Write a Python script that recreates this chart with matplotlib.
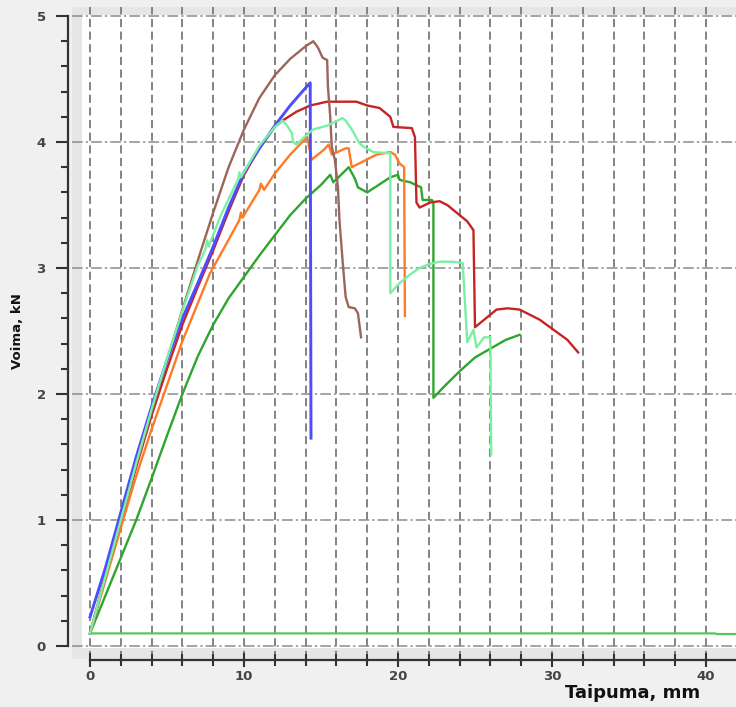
import matplotlib
matplotlib.use("Agg")
import matplotlib.pyplot as plt
from matplotlib.ticker import MultipleLocator

plt.rcParams['font.family'] = ['DejaVu Sans']

# Force–deflection curves (deflection in mm, force in kN)
brown_x = [0, 1, 2, 3, 4, 5, 6, 7, 8, 9, 10, 11, 12, 13, 14, 14.5,
           14.8, 15.1, 15.4, 15.45, 15.6, 15.7, 15.9, 16.1, 16.2, 16.4, 16.6, 16.8, 17.2, 17.4, 17.6]
brown_y = [0.1, 0.56, 1.0, 1.44, 1.86, 2.27, 2.67, 3.06, 3.44, 3.8, 4.1, 4.35, 4.53, 4.66, 4.76, 4.8,
           4.75, 4.67, 4.65, 4.44, 4.2, 3.96, 3.86, 3.64, 3.38, 3.06, 2.77, 2.69, 2.68, 2.64, 2.45]

blue_x = [0, 1, 2, 3, 4, 5, 6, 7, 8, 9, 10, 11, 12, 13, 14, 14.3, 14.35]
blue_y = [0.23, 0.62, 1.06, 1.5, 1.9, 2.27, 2.6, 2.88, 3.17, 3.48, 3.76, 3.95, 4.13, 4.29, 4.43, 4.47, 1.65]

red_x = [0, 1, 2, 3, 4, 5, 6, 7, 8, 9, 10, 11, 12, 12.5, 13.4, 14.3, 15.4, 17.3, 18.0, 18.8, 19.5,
         19.7, 20.9, 21.1, 21.2, 21.4, 22.1, 22.7, 23.2, 23.8, 24.5, 24.9, 25.0, 25.4, 26.4,
         27.1, 27.9, 29.2, 30.1, 31.0, 31.7]
red_y = [0.1, 0.55, 1.0, 1.42, 1.83, 2.2, 2.55, 2.85, 3.14, 3.45, 3.74, 3.95, 4.12, 4.17, 4.24, 4.29,
         4.32, 4.32, 4.29, 4.27, 4.2, 4.12, 4.11, 4.04, 3.52, 3.48, 3.52, 3.53, 3.5, 3.44, 3.37, 3.3,
         2.53, 2.57, 2.67, 2.68, 2.67, 2.59, 2.51, 2.43, 2.33]

aqua_x = [0, 1, 2, 3, 4, 5, 6, 7, 7.5, 7.6, 7.7, 8.5, 9.6, 9.7, 9.8, 11.0, 12.0, 12.5, 12.8, 13.1,
          13.2, 13.4, 14.1, 14.5, 15.4, 16.4, 16.6, 17.0, 17.5, 17.8, 18.4, 19.5, 19.5, 20.1, 20.8,
          21.4, 22.0, 22.7, 23.5, 24.2, 24.5, 24.9, 25.1, 25.6, 26.0, 26.05]
aqua_y = [0.1, 0.55, 1.0, 1.45, 1.88, 2.28, 2.66, 3.02, 3.15, 3.22, 3.17, 3.42, 3.7, 3.76, 3.72, 3.97,
          4.12, 4.17, 4.13, 4.07, 4.0, 3.98, 4.06, 4.1, 4.13, 4.19, 4.17, 4.1, 3.99, 3.96, 3.92, 3.91,
          2.8, 2.88, 2.95, 3.0, 3.03, 3.05, 3.05, 3.04, 2.41, 2.51, 2.37, 2.45, 2.45, 1.52]

orange_x = [0, 1, 2.15, 3, 4, 4.8, 6, 7, 7.8, 8.8, 9.7, 9.8, 9.9, 11.0, 11.1, 11.3, 12.0, 13.0, 14.1,
            14.4, 15.2, 15.5, 15.7, 16.6, 16.8, 17.0, 18.6, 19.5, 19.8, 20.1, 20.4, 20.45]
orange_y = [0.1, 0.52, 1.0, 1.35, 1.72, 2.0, 2.42, 2.72, 2.96, 3.18, 3.38, 3.44, 3.40, 3.62, 3.67,
            3.62, 3.75, 3.9, 4.04, 3.86, 3.94, 3.98, 3.9, 3.95, 3.95, 3.8, 3.9, 3.92, 3.9, 3.83, 3.8,
            2.62]

green_x = [0, 1, 2, 3, 4, 5, 6, 7, 8, 9, 10, 11, 12, 13, 14, 15, 15.6, 15.8, 16.8, 17.2,
           17.4, 18.0, 19.5, 20.0, 20.1, 20.8, 21.5, 21.6, 22.2, 22.3, 22.3, 23.0, 24.0, 25.0, 26.0,
           27.0, 27.9]
green_y = [0.1, 0.4, 0.7, 1.0, 1.33, 1.67, 2.0, 2.3, 2.55, 2.76, 2.93, 3.1, 3.26, 3.42, 3.55, 3.66,
           3.74, 3.68, 3.8, 3.71, 3.64, 3.6, 3.72, 3.74, 3.7, 3.68, 3.64, 3.54, 3.54, 3.52, 1.97,
           2.06, 2.18, 2.29, 2.36, 2.43, 2.47]

base_x = [0, 40.6, 40.7, 45]
base_y = [0.1, 0.1, 0.095, 0.095]

W, H = 736, 707
fig = plt.figure(figsize=(W / 100, H / 100), dpi=100, facecolor='#f0f0f0')

# axes geometry in pixels
px_left, px_right = 72, 736
py_top, py_bottom = 7.2, 658.6
ax = fig.add_axes([px_left / W, 1 - py_bottom / H,
                   (px_right - px_left) / W, (py_bottom - py_top) / H])
ax.set_xlim(-1.17, 41.95)
ax.set_ylim(-0.1, 5.07)
ax.set_facecolor('white')

# soft grey frame around the plotting area
band = '#e6e6e6'
ax.axvspan(-1.17, -0.52, color=band, lw=0, zorder=0)
ax.axhspan(-0.1, -0.016, color=band, lw=0, zorder=0)
ax.axhspan(5.008, 5.07, color=band, lw=0, zorder=0)

# grid
for gx in range(0, 42, 2):
    ax.axvline(gx, color='#7a7a7a', lw=1.3, ls=(0, (4.5, 2.5)), zorder=1)
for gy in range(0, 6):
    ax.axhline(gy, color='#8c8c8c', lw=1.1, ls=(0, (7, 2, 1.5, 2)), zorder=1)

lw = 1.7
ax.plot(base_x, base_y, color='#5cc45c', lw=1.6, zorder=3)
ax.plot(green_x, green_y, color='#2ea52e', lw=lw, zorder=3)
ax.plot(orange_x, orange_y, color='#ff7a26', lw=lw, zorder=3)
ax.plot(red_x, red_y, color='#c52424', lw=lw, zorder=4)
ax.plot(blue_x, blue_y, color='#4d4dff', lw=2.1, zorder=5)
ax.plot(aqua_x, aqua_y, color='#7af0a4', lw=lw, zorder=6)
ax.plot(brown_x, brown_y, color='#9c655a', lw=lw, zorder=4)

# axes spines and ticks
for s in ('top', 'right'):
    ax.spines[s].set_visible(False)
ax.spines['left'].set_position(('outward', 2.9))
ax.spines['bottom'].set_position(('outward', 1.0))
ax.spines['left'].set_bounds(0, 5)
ax.spines['bottom'].set_bounds(0, 41.95)
for s in ('left', 'bottom'):
    ax.spines[s].set_linewidth(1.6)
    ax.spines[s].set_color('#333333')

ax.xaxis.set_major_locator(MultipleLocator(10))
ax.xaxis.set_minor_locator(MultipleLocator(2))
ax.yaxis.set_major_locator(MultipleLocator(1))
ax.yaxis.set_minor_locator(MultipleLocator(0.2))
ax.tick_params(axis='y', which='major', direction='out', length=9, width=1.5, color='#333333',
               labelsize=9.5, labelcolor='#444444', pad=7)
ax.tick_params(axis='y', which='minor', direction='out', length=5, width=1.5, color='#333333')
ax.tick_params(axis='x', which='major', direction='inout', length=10, width=1.5, color='#333333',
               labelsize=9.5, labelcolor='#444444', pad=2)
ax.tick_params(axis='x', which='minor', direction='inout', length=8, width=1.5, color='#333333')
for lab in ax.get_xticklabels() + ax.get_yticklabels():
    lab.set_fontweight('bold')

fig.text(18 / W, 1 - 331 / H, 'Voima, kN', rotation=90, ha='center', va='center',
         fontsize=9.5, fontweight='bold', color='#111111')
fig.text(633 / W, 1 - 693 / H, 'Taipuma, mm', ha='center', va='center',
         fontsize=13, fontweight='bold', color='#111111')

fig.savefig('out.png', dpi=100, facecolor=fig.get_facecolor())
